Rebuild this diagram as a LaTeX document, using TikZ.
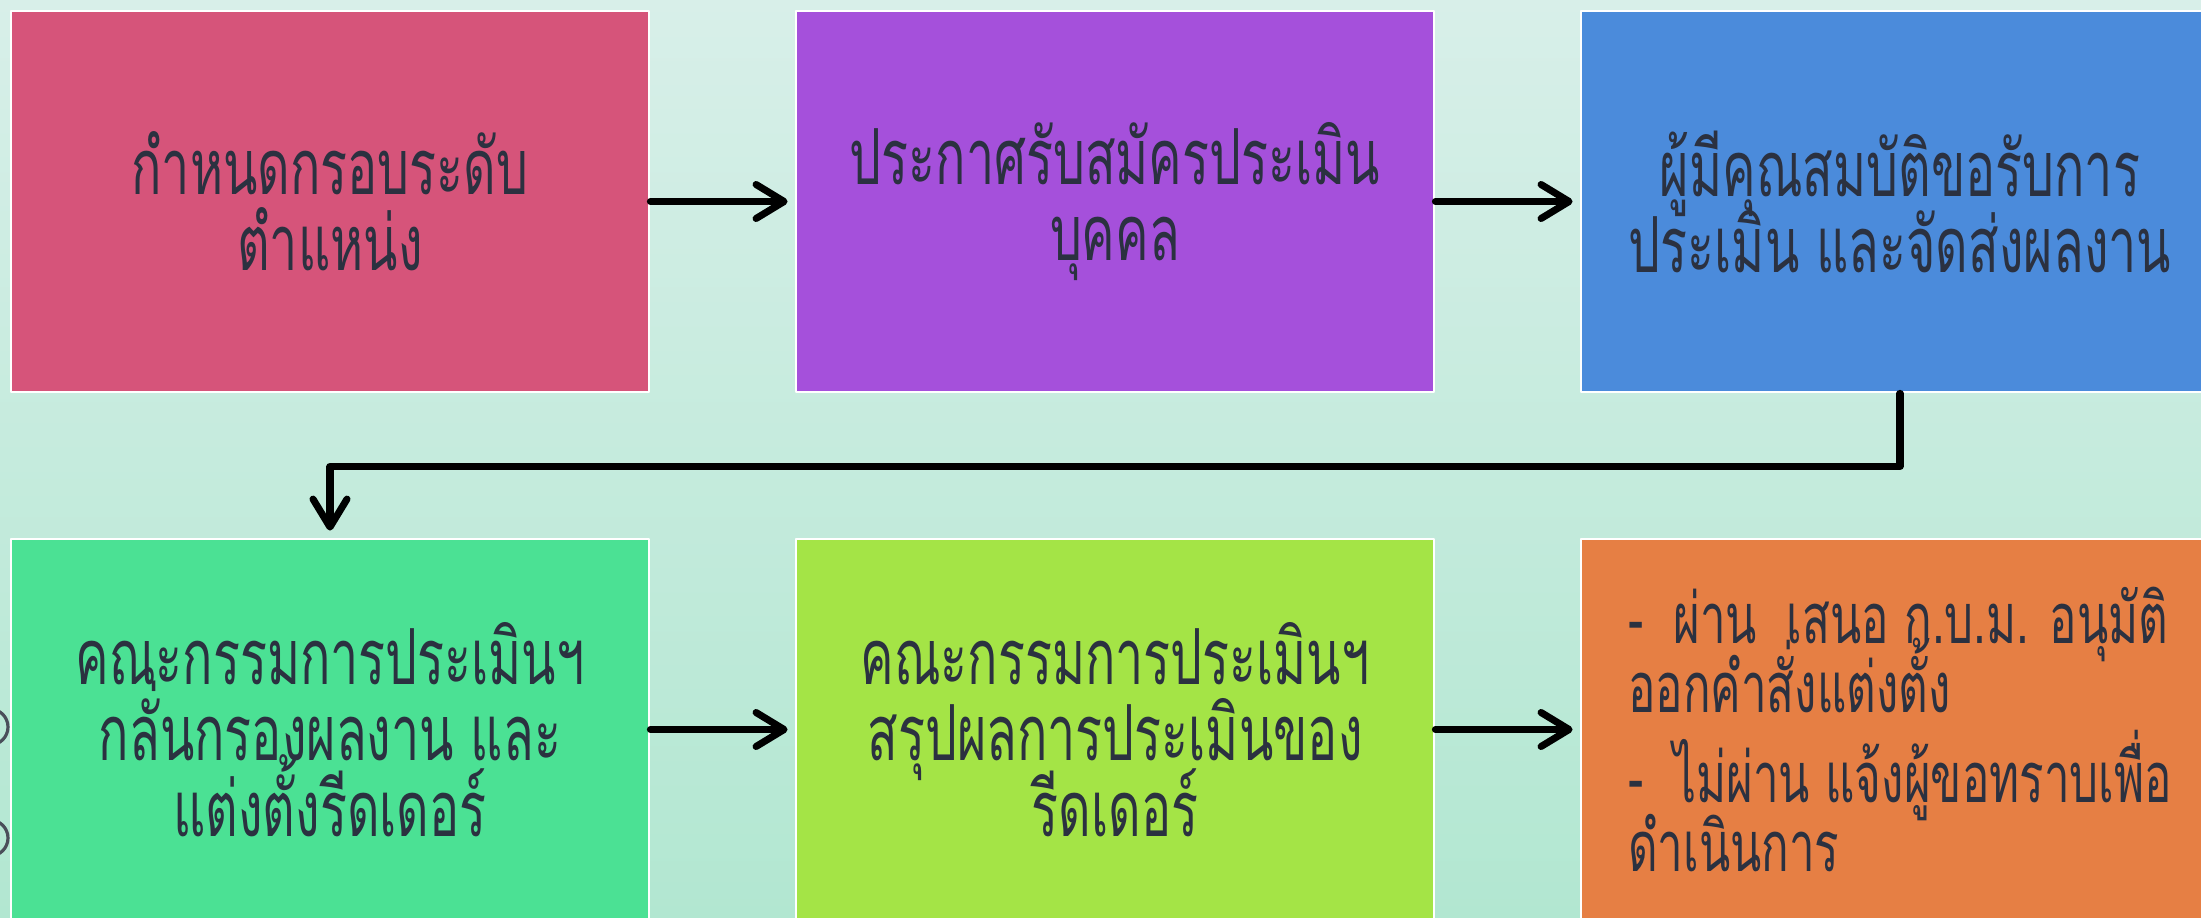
\documentclass[tikz,border=0pt]{standalone}
\usepackage{fontspec}
\usepackage{xcolor}
\usepackage{tikz}
\usetikzlibrary{arrows.meta}
\usetikzlibrary{calc}
\usetikzlibrary{positioning}
\newfontfamily\thaifont[Script=Thai, FakeStretch=0.65]{Loma}
\newcommand{\stagefont}{\thaifont\fontsize{22pt}{21.6pt}\selectfont\setlength{\lineskiplimit}{-20pt}}
\newcommand{\notefont}{\thaifont\fontsize{20pt}{19.5pt}\selectfont\setlength{\lineskiplimit}{-20pt}}
\definecolor{slide-rose}{HTML}{D6547A}
\definecolor{slide-violet}{HTML}{A550DB}
\definecolor{slide-blue}{HTML}{4B8BDB}
\definecolor{slide-mint}{HTML}{4BE194}
\definecolor{slide-lime}{HTML}{A4E446}
\definecolor{slide-orange}{HTML}{E67F44}
\definecolor{slide-ink}{HTML}{2B3140}
\definecolor{slide-bgtop}{HTML}{D8EFE9}
\definecolor{slide-bgbottom}{HTML}{B2E7D1}
\definecolor{slide-ring}{HTML}{4A4F5A}

\begin{document}
\begin{tikzpicture}[line cap=round, line join=round,
    stage/.style={rectangle, draw=white, line width=0.8pt, minimum width=6.38cm, minimum height=3.81cm,
        inner sep=0pt, align=center, text=slide-ink, font=\stagefont},
    flow/.style={line width=2pt, -{Straight Barb[round, length=2.8mm, width=3.4mm]}, shorten >=0.07cm}]
    % frame
    \useasboundingbox (0,0) rectangle (22.01,-9.18);
    \shade[top color=slide-bgtop, bottom color=slide-bgbottom] (0,0) rectangle (22.01,-9.18);

    % rings at the left edge
    \draw[color=slide-ring, line width=0.9pt] (-0.1,-7.27) circle (0.18);
    \draw[color=slide-ring, line width=0.9pt] (-0.1,-8.38) circle (0.18);

    % first row
    \node[stage, fill=slide-rose] (frame) at (3.30,-2.015) {กำหนดกรอบระดับ\\ตำแหน่ง};
    \node[stage, fill=slide-violet] (call) at (11.15,-2.015) {ประกาศรับสมัครประเมิน\\บุคคล};
    \node[stage, fill=slide-blue] (apply) at (19.00,-2.015) {ผู้มีคุณสมบัติขอรับการ\\ประเมิน และจัดส่งผลงาน};

    % second row
    \node[stage, fill=slide-mint] (screen) at (3.30,-7.295) {คณะกรรมการประเมินฯ\\กลั่นกรองผลงาน และ\\แต่งตั้งรีดเดอร์};
    \node[stage, fill=slide-lime] (sum) at (11.15,-7.295) {คณะกรรมการประเมินฯ\\สรุปผลการประเมินของ\\รีดเดอร์};
    \node[stage, fill=slide-orange, align=left, font=\notefont] (result) at (19.00,-7.295)
        {-\hspace{0.3cm}ผ่าน\hspace{0.3cm}เสนอ ก.บ.ม. อนุมัติ\\ออกคำสั่งแต่งตั้ง\\[0.22cm]
         -\hspace{0.3cm}ไม่ผ่าน แจ้งผู้ขอทราบเพื่อ\\ดำเนินการ};

    % connectors
    \draw[flow] (frame) -- (call);
    \draw[flow] (call) -- (apply);
    \draw[flow] (apply.south) -- ++(0,-0.73) -| (screen.north);
    \draw[flow] (screen) -- (sum);
    \draw[flow] (sum) -- (result);

\end{tikzpicture}
\end{document}
